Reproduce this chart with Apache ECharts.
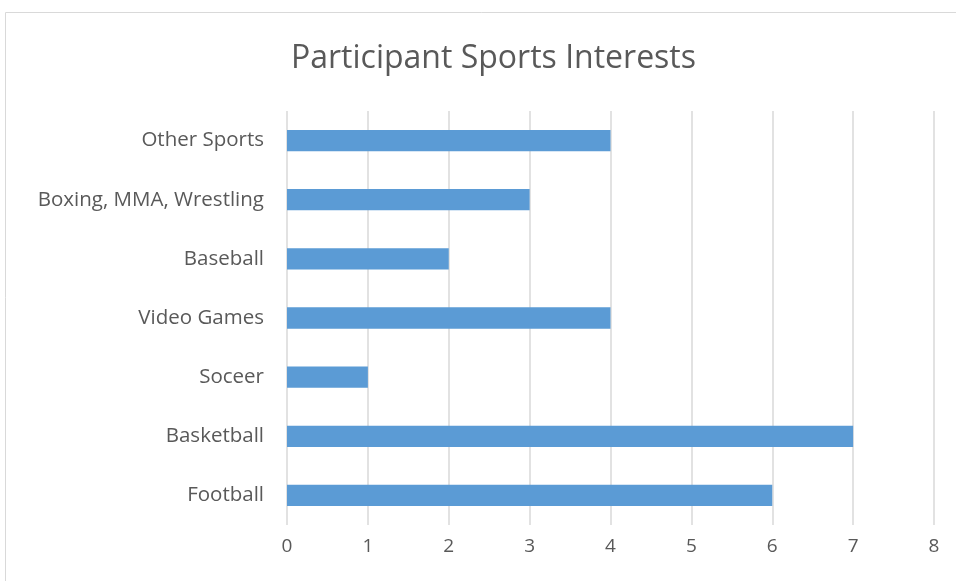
<!DOCTYPE html>
<html>
<head>
<meta charset="utf-8">
<script src="https://cdn.jsdelivr.net/npm/echarts@6/dist/echarts.min.js"></script>
<style>
  html, body { margin: 0; padding: 0; background: #fff; }
  #chart { width: 956px; height: 581px; }
</style>
</head>
<body>
<div id="chart"></div>
<script>
// categories bottom -> top
var categories = ["Football", "Basketball", "Soceer", "Video Games", "Baseball", "Boxing, MMA, Wrestling", "Other Sports"];
var counts = [6, 7, 1, 4, 2, 3, 4];
var chartTitle = "Participant Sports Interests";

var myChart = echarts.init(document.getElementById("chart"));
var option = {
  animation: false,
  textStyle: { fontFamily: "Open Sans" },
  graphic: [
    {
      type: "rect",
      shape: { x: 5.5, y: 12.5, width: 960, height: 580 },
      style: { fill: "none", stroke: "#d9d9d9", lineWidth: 1 }
    }
  ],
  title: {
    text: chartTitle,
    left: 286,
    top: 38,
    textStyle: { color: "#595959", fontSize: 32, fontWeight: "normal", fontFamily: "Open Sans" }
  },
  grid: { left: 287, right: 22, top: 111, bottom: 56 },
  xAxis: {
    type: "value",
    min: 0,
    max: 8,
    interval: 1,
    axisLine: { show: false },
    axisTick: { show: false },
    axisLabel: { color: "#595959", fontSize: 19, margin: 12 },
    splitLine: { show: true, lineStyle: { color: "#d9d9d9", width: 1.5 } }
  },
  yAxis: {
    type: "category",
    data: categories,
    axisLine: { show: false },
    axisTick: { show: false },
    axisLabel: { color: "#595959", fontSize: 20.5, margin: 23 }
  },
  series: [
    {
      type: "bar",
      data: counts,
      barCategoryGap: "64%",
      itemStyle: { color: "#5b9bd5" }
    }
  ]
};
myChart.setOption(option);
window.addEventListener("resize", function () {
  myChart.resize();
});
</script>
</body>
</html>
